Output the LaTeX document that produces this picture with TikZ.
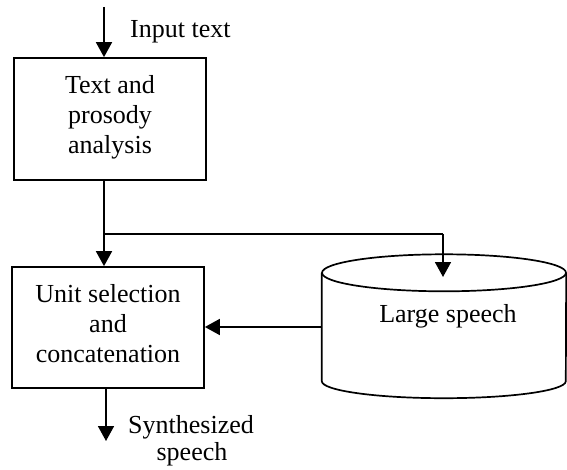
\documentclass[tikz,border=0pt]{standalone}
\usepackage{fontspec}
\setmainfont{Liberation Serif}
\usetikzlibrary{arrows.meta}
\begin{document}
\begin{tikzpicture}[x=1pt,y=1pt,
  box/.style={draw,line width=1.7pt,minimum width=192pt,minimum height=122pt,inner sep=0pt},
  txt/.style={font=\fontsize{26}{30}\selectfont,align=center,inner sep=0pt},
  conn/.style={line width=1.7pt},
  arr/.style={conn,-{Triangle[length=15pt,width=16pt]}}]
\useasboundingbox (0,0) rectangle (567,469);
% boxes
\node[box] (b1) at (110,350) {};
\node[txt] (b1t) at (110,352) {Text and\\prosody\\analysis};
\node[box,minimum height=121pt] (b2) at (108,141.5) {};
\node[txt] (b2t) at (108,145.4) {Unit selection\\and\\concatenation};
% database cylinder
\node[minimum width=244pt,minimum height=108pt,inner sep=0pt] (db) at (444,142) {};
\draw[conn] (db.north west) -- (db.south west)
  arc[start angle=180,end angle=360,x radius=122pt,y radius=17pt] -- (db.north east);
\draw[conn] (db.north) ellipse[x radius=122pt,y radius=18.5pt];
\node[txt,anchor=base] (dbt) at (448,147) {Large speech};
% labels
\node[txt,anchor=base west] (in) at (130,431) {Input text};
\node[txt,anchor=base west] (syn) at (128,36) {Synthesized};
\node[txt,anchor=base] (sp) at (192,9) {speech};
% connectors
\coordinate (top) at (104,462);
\draw[arr] (top) -- (top |- b1.north);
\coordinate (j) at (104,235);
\draw[arr] (b1.south -| j) -- (b2.north -| j);
\coordinate (k) at (443,235);
\coordinate (ke) at (443,192);
\draw[conn] (j) -- (k);
\draw[arr] (k) -- (ke);
\draw[arr] (db.west) -- (db.west -| b2.east);
\coordinate (out) at (106,28);
\draw[arr] (b2.south -| out) -- (out);
\end{tikzpicture}
\end{document}
